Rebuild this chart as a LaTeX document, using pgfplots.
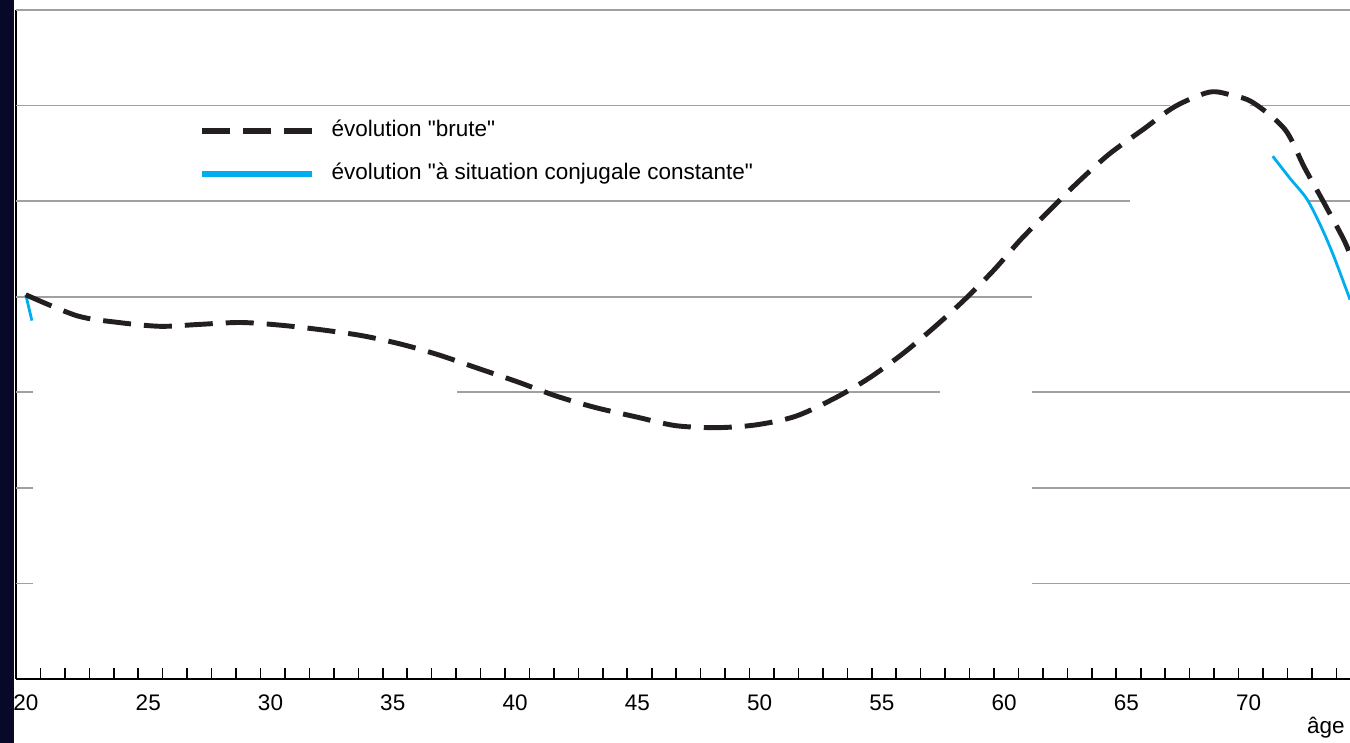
\documentclass[border=0pt]{standalone}
\usepackage{fontspec}
\setmainfont{Liberation Sans}
\usepackage{pgfplots}
\pgfplotsset{compat=1.18}
\definecolor{gridgray}{RGB}{160,160,160}
\definecolor{cblue}{RGB}{0,174,239}
\definecolor{curve}{RGB}{35,31,32}
\definecolor{band}{RGB}{8,8,40}
\newcommand{\lbl}{\fontsize{6.4}{7.5}\selectfont}

\begin{document}
\begin{tikzpicture}
\begin{axis}[
  scale only axis,
  width=13.34cm, height=6.69cm,
  xmin=20, xmax=74.56, ymin=0, ymax=7,
  axis x line*=bottom, axis y line*=left,
  axis line style={line width=0.6pt, black},
  ytick=\empty,
  xtick={20,...,74},
  xticklabels={20,,,,,25,,,,,30,,,,,35,,,,,40,,,,,45,,,,,50,,,,,55,,,,,60,,,,,65,,,,,70,,,,},
  tick align=inside,
  major tick length=0.11cm,
  tick style={line width=0.45pt, black},
  xticklabel style={font=\lbl, anchor=north, inner sep=0pt, xshift=0.1cm, yshift=-0.15cm},
  /pgf/number format/assume math mode=true,
  clip=false,
  unbounded coords=jump,
  legend style={draw=none, fill=none, at={(axis description cs:0.137,0.787)}, anchor=west,
    inner sep=0pt, row sep=0.22cm, column sep=0.17cm,
    nodes={inner sep=0pt, font=\lbl, text height=0.16cm, text depth=0.05cm}},
  legend cell align=left,
  reverse legend,
  legend image code/.code={\draw[#1, line width=1.5pt] (0cm,0cm) -- (1.1cm,0cm);},
]
% horizontal rules (with the white gaps of the original)
\draw[gridgray, line width=0.5pt] (axis cs:20,7) -- (axis cs:74.56,7);
\draw[gridgray, line width=0.5pt] (axis cs:20,6) -- (axis cs:67.2,6);
\draw[gridgray, line width=0.5pt] (axis cs:70.47,6) -- (axis cs:74.56,6);
\draw[gridgray, line width=0.5pt] (axis cs:20,5) -- (axis cs:65.56,5);
\draw[gridgray, line width=0.5pt] (axis cs:72.8,5) -- (axis cs:74.56,5);
\draw[gridgray, line width=0.5pt] (axis cs:20,4) -- (axis cs:61.55,4);
\draw[gridgray, line width=0.5pt] (axis cs:20,3) -- (axis cs:20.7,3);
\draw[gridgray, line width=0.5pt] (axis cs:38.04,3) -- (axis cs:57.79,3);
\draw[gridgray, line width=0.5pt] (axis cs:61.55,3) -- (axis cs:74.56,3);
\draw[gridgray, line width=0.5pt] (axis cs:20,2) -- (axis cs:20.7,2);
\draw[gridgray, line width=0.5pt] (axis cs:61.55,2) -- (axis cs:74.56,2);
\draw[gridgray, line width=0.5pt] (axis cs:20,1) -- (axis cs:20.7,1);
\draw[gridgray, line width=0.5pt] (axis cs:61.55,1) -- (axis cs:74.56,1);

\addplot[cblue, line width=0.8pt, smooth] coordinates {
  (20.4,4.02) (20.65,3.75) (nan,nan)
  (71.4,5.47) (72.1,5.24) (72.8,5.02) (73.4,4.72) (73.9,4.42) (74.56,3.97)
};
\addlegendentry{évolution \textquotedbl à situation conjugale constante\textquotedbl}

\addplot[curve, line width=1.4pt, dash pattern=on 0.28cm off 0.13cm, smooth] coordinates {
  (20.4,4.02) (22.5,3.80) (24.2,3.73) (25.9,3.69) (27.5,3.71) (29.2,3.73)
  (30.9,3.70) (32.6,3.65) (34.2,3.59) (35.8,3.50) (37.3,3.39) (38.9,3.25)
  (40.5,3.11) (42.1,2.96) (43.7,2.84) (45.4,2.74) (47.0,2.65) (48.7,2.63)
  (50.3,2.66) (51.9,2.75) (53.5,2.94) (54.9,3.15) (56.3,3.41) (57.6,3.69)
  (58.8,3.97) (60.0,4.28) (61.1,4.60) (62.3,4.91) (63.4,5.19) (64.7,5.49)
  (66.1,5.75) (67.4,5.99) (68.8,6.14) (69.7,6.11) (70.6,6.03) (71.9,5.75)
  (72.7,5.35) (73.5,4.98) (74.3,4.60) (74.56,4.44)
};
\addlegendentry{évolution \textquotedbl brute\textquotedbl}

\node[font=\lbl] at (axis description cs:0.982,0) [yshift=-0.49cm] {âge};
\coordinate (SW) at (axis description cs:0,0);
\end{axis}
\pgfresetboundingbox
\path ([shift={(-0.16cm,-0.64cm)}]SW) rectangle ([shift={(13.34cm,6.79cm)}]SW);
\fill[band] ([shift={(-0.16cm,-0.64cm)}]SW) rectangle ([shift={(-0.02cm,6.79cm)}]SW);
\end{tikzpicture}
\end{document}
